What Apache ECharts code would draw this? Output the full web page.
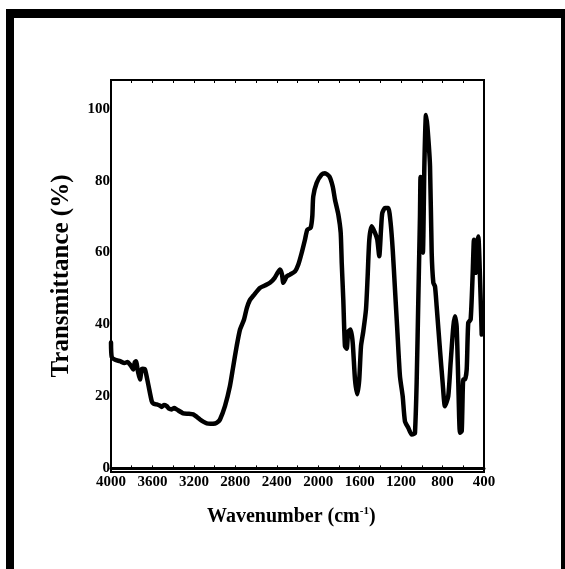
<!DOCTYPE html>
<html>
<head>
<meta charset="utf-8">
<script src="https://cdn.jsdelivr.net/npm/echarts@6/dist/echarts.min.js"></script>
<style>
  html, body { margin: 0; padding: 0; background: #fff; }
  #chart { width: 565px; height: 569px; }
</style>
</head>
<body>
<div id="chart"></div>
<script>
// FTIR spectrum: wavenumber (cm-1) vs transmittance (%)
const wavenumbers = [
  4000, 3993, 3960, 3913, 3870, 3840, 3817, 3800, 3785, 3770, 3759, 3740, 3720, 3705, 3694, 3672,
  3640, 3607, 3590, 3559, 3530, 3511, 3490, 3462, 3440, 3414, 3390, 3366, 3302, 3250, 3206, 3170,
  3141, 3110, 3076, 3040, 2996, 2970, 2948, 2900, 2852, 2820, 2787, 2755, 2716, 2690, 2660, 2627, 2562,
  2520, 2466, 2420, 2390, 2369, 2350, 2337, 2320, 2304, 2272, 2224, 2192, 2160, 2128, 2105, 2073,
  2057, 2048, 2015, 1967, 1935, 1893, 1860, 1838, 1806, 1783, 1773, 1758, 1742, 1725, 1710, 1687,
  1667, 1645, 1623, 1604, 1587, 1565, 1539, 1523, 1507, 1484, 1452, 1430, 1411, 1394, 1382, 1356,
  1324, 1301, 1281, 1259, 1237, 1211, 1185, 1163, 1131, 1098, 1075, 1066, 1050, 1034, 1025, 1018,
  1013, 1004, 990, 975, 960, 946, 921, 905, 889, 873, 857, 825, 799, 777, 745, 722,
  696, 680, 664, 648, 632, 615, 600, 584, 567, 552, 529, 509, 497, 480, 470, 455,
  439, 422
];
const transmittance = [
  35, 31, 30.2, 29.8, 29.3, 29.6, 28.9, 28.2, 27.5, 29.5, 29.8, 27, 24.7, 27.5, 27.7, 27.5,
  23.3, 18.7, 18.0, 17.8, 17.5, 17.1, 17.6, 17.3, 16.6, 16.4, 16.8, 16.4, 15.3, 15.2, 15.0, 14.3,
  13.6, 13.0, 12.5, 12.4, 12.5, 12.9, 13.6, 17.3, 22.9, 28.4, 34, 38.6, 41.4, 44.5, 46.8, 48, 50.2,
  50.8, 51.6, 53, 54.5, 55.3, 54, 51.6, 52.5, 53.4, 53.9, 54.8, 56.7, 59.9, 63.6, 66.4, 66.9,
  70.1, 75.6, 79.4, 81.7, 82.1, 81.2, 78.4, 74.7, 70.6, 65.5, 57.1, 46.9, 34, 33.3, 38.1, 38.6,
  34.9, 24.7, 20.6, 24.7, 34, 38.1, 44.2, 53.4, 63.6, 67.3, 65.5, 63.6, 59, 66.4, 71, 72.4,
  72.4, 68.2, 60.8, 49.7, 38.6, 25.6, 20.1, 13.1, 11.3, 9.4, 9.6, 9.9, 23.8, 46.9, 59.9, 70.1,
  81, 65, 60, 85, 98.3, 95, 84, 60, 51.6, 50.6, 45.1, 33, 23.8, 17.3, 20.1, 29.4,
  39.5, 42.3, 39.5, 23.8, 9.9, 10.4, 24.7, 24.7, 27.5, 40.5, 41.4, 54.4, 63.6, 54.4, 62, 64.5,
  53.4, 37.2
];
const yTickLabels = [0, 20, 40, 60, 80, 100];

const serif = '"Liberation Serif", "Times New Roman", serif';
const chart = echarts.init(document.getElementById('chart'), null, { renderer: 'canvas' });

const points = wavenumbers.map((w, i) => [w, transmittance[i]]);
const plain = v => String(v);

chart.setOption({
  backgroundColor: '#fff',
  animation: false,
  grid: { left: 111, top: 80, right: 81, bottom: 97, show: true, borderColor: '#000', borderWidth: 2, backgroundColor: 'transparent' },
  xAxis: [
    {
      type: 'value', inverse: true, min: 400, max: 4000, interval: 400,
      axisLine: { show: true, lineStyle: { color: '#000', width: 3 } },
      axisTick: { show: true, inside: true, length: 3, lineStyle: { color: '#000', width: 1 } },
      minorTick: { show: true, splitNumber: 2, length: 3, lineStyle: { color: '#000', width: 1 } },
      splitLine: { show: false },
      axisLabel: { color: '#000', fontFamily: serif, fontWeight: 'bold', fontSize: 15, margin: 3, formatter: plain }
    },
    {
      type: 'value', inverse: true, min: 400, max: 4000, interval: 400, position: 'top',
      axisLine: { show: true, lineStyle: { color: '#000', width: 2 } },
      axisTick: { show: true, inside: true, length: 3, lineStyle: { color: '#000', width: 1 } },
      minorTick: { show: true, splitNumber: 2, length: 3, lineStyle: { color: '#000', width: 1 } },
      splitLine: { show: false },
      axisLabel: { show: false }
    }
  ],
  yAxis: {
    type: 'value', min: -1, max: 108,
    name: 'Transmittance (%)', nameLocation: 'middle', nameGap: 37, nameRotate: 90,
    nameTextStyle: { color: '#000', fontFamily: serif, fontWeight: 'bold', fontSize: 25 },
    axisLine: { show: true, lineStyle: { color: '#000', width: 2 } },
    axisTick: { show: false },
    splitLine: { show: false },
    axisLabel: { color: '#000', fontFamily: serif, fontWeight: 'bold', fontSize: 15, margin: 1, customValues: yTickLabels, formatter: plain }
  },
  series: [{
    type: 'line', xAxisIndex: 0, data: points, showSymbol: false, symbol: 'none',
    lineStyle: { color: '#000', width: 4.5, join: 'round', cap: 'round' },
    smooth: 0.2
  }],
  graphic: [
    // outer black frame (open at bottom)
    { type: 'rect', shape: { x: 6, y: 9, width: 8, height: 560 }, style: { fill: '#000' } },
    { type: 'rect', shape: { x: 6, y: 9, width: 559, height: 9 }, style: { fill: '#000' } },
    { type: 'rect', shape: { x: 561, y: 9, width: 4, height: 560 }, style: { fill: '#000' } },
    {
      type: 'text', left: 207, top: 506,
      style: {
        text: '{t|Wavenumber (cm}{s|-1}{t|)}',
        rich: {
          t: { fontFamily: serif, fontWeight: 'bold', fontSize: 20, fill: '#000', verticalAlign: 'bottom' },
          s: { fontFamily: serif, fontWeight: 'bold', fontSize: 11, fill: '#000', verticalAlign: 'top', padding: [0, 0, 10, 0] }
        }
      }
    }
  ]
});
</script>
</body>
</html>
